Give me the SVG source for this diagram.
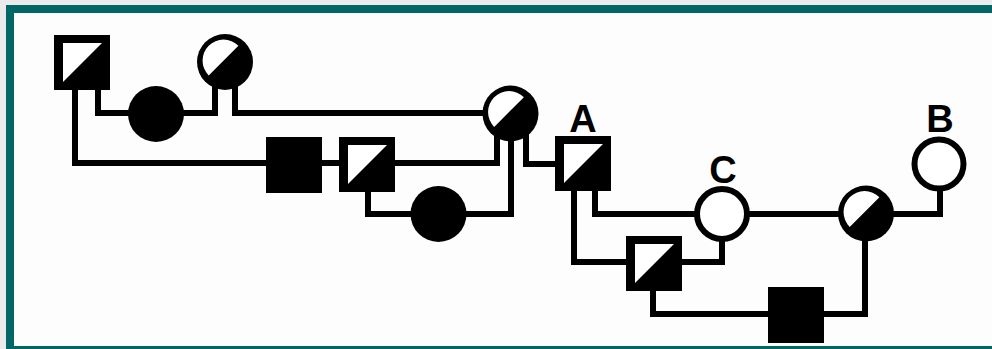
<svg xmlns="http://www.w3.org/2000/svg" width="992" height="349" viewBox="0 0 992 349">
<style>
.c{fill:none;stroke:#000;stroke-width:6;stroke-linejoin:miter;stroke-linecap:square}
.blk{fill:#000}
.wht{fill:#fff}
.open{fill:#fff;stroke:#000;stroke-width:6}
.lbl{font-family:"Liberation Sans",Arial,sans-serif;font-weight:bold;font-size:38px;fill:#000;text-anchor:middle}
</style>
<defs>
<g id="halfSq">
<rect x="0" y="0" width="56" height="55" class="blk"/>
<polygon points="9,8 48,8 9,47" class="wht"/>
</g>
<g id="fullSq">
<rect x="0" y="0" width="56" height="56" class="blk"/>
</g>
<g id="halfCirc">
<circle cx="0" cy="0" r="28" class="blk"/>
<path d="M -16.3 13.4 A 21 21 0 0 1 13.4 -16.3 Z" class="wht"/>
</g>
</defs>
<rect x="0" y="0" width="992" height="349" fill="#ebebeb"/>
<rect x="6" y="5" width="986" height="344" fill="#fdfdfd"/>
<rect x="6" y="5" width="986" height="8" fill="#006666"/>
<rect x="6" y="5" width="8" height="344" fill="#006666"/>
<rect x="6" y="346" width="986" height="3" fill="#006666"/>
<g id="connectors">
<polyline class="c" points="75,90 75,163 266,163"/>
<polyline class="c" points="323,163 339,163"/>
<polyline class="c" points="396,163 497,163 497,134"/>
<polyline class="c" points="98,90 98,113 215,113 215,86"/>
<polyline class="c" points="235,86 235,113 486,113"/>
<polyline class="c" points="368,192 368,214 511,214 511,137"/>
<polyline class="c" points="526,135 526,164 556,164"/>
<polyline class="c" points="574,190 574,262 627,262"/>
<polyline class="c" points="595,190 595,214 696,214"/>
<polyline class="c" points="681,262 722,262 722,240"/>
<polyline class="c" points="748,214 840,214"/>
<polyline class="c" points="892,214 940,214 940,189"/>
<polyline class="c" points="653,291 653,314 865,314 865,239"/>
</g>
<g id="n1"><use href="#halfSq" x="54" y="35"/></g>
<g id="n2"><circle cx="156" cy="114" r="28" class="blk"/></g>
<g id="n3"><use href="#halfCirc" x="225" y="62"/></g>
<g id="n4"><use href="#halfCirc" x="510.5" y="113.5"/></g>
<g id="n5"><use href="#fullSq" x="266" y="137"/></g>
<g id="n6"><use href="#halfSq" x="339" y="137"/></g>
<g id="n7"><circle cx="438.5" cy="214" r="28" class="blk"/></g>
<g id="nA"><use href="#halfSq" x="555" y="136"/><text class="lbl" x="583" y="132">A</text></g>
<g id="nC"><circle cx="722" cy="214" r="25" class="open"/><text class="lbl" x="723" y="183">C</text></g>
<g id="nB"><circle cx="939" cy="164" r="24.5" class="open"/><text class="lbl" x="940" y="132">B</text></g>
<g id="nD"><use href="#halfCirc" x="866" y="213.5"/></g>
<g id="n12"><use href="#halfSq" x="626" y="236"/></g>
<g id="n13"><use href="#fullSq" x="768" y="287"/></g>
</svg>
